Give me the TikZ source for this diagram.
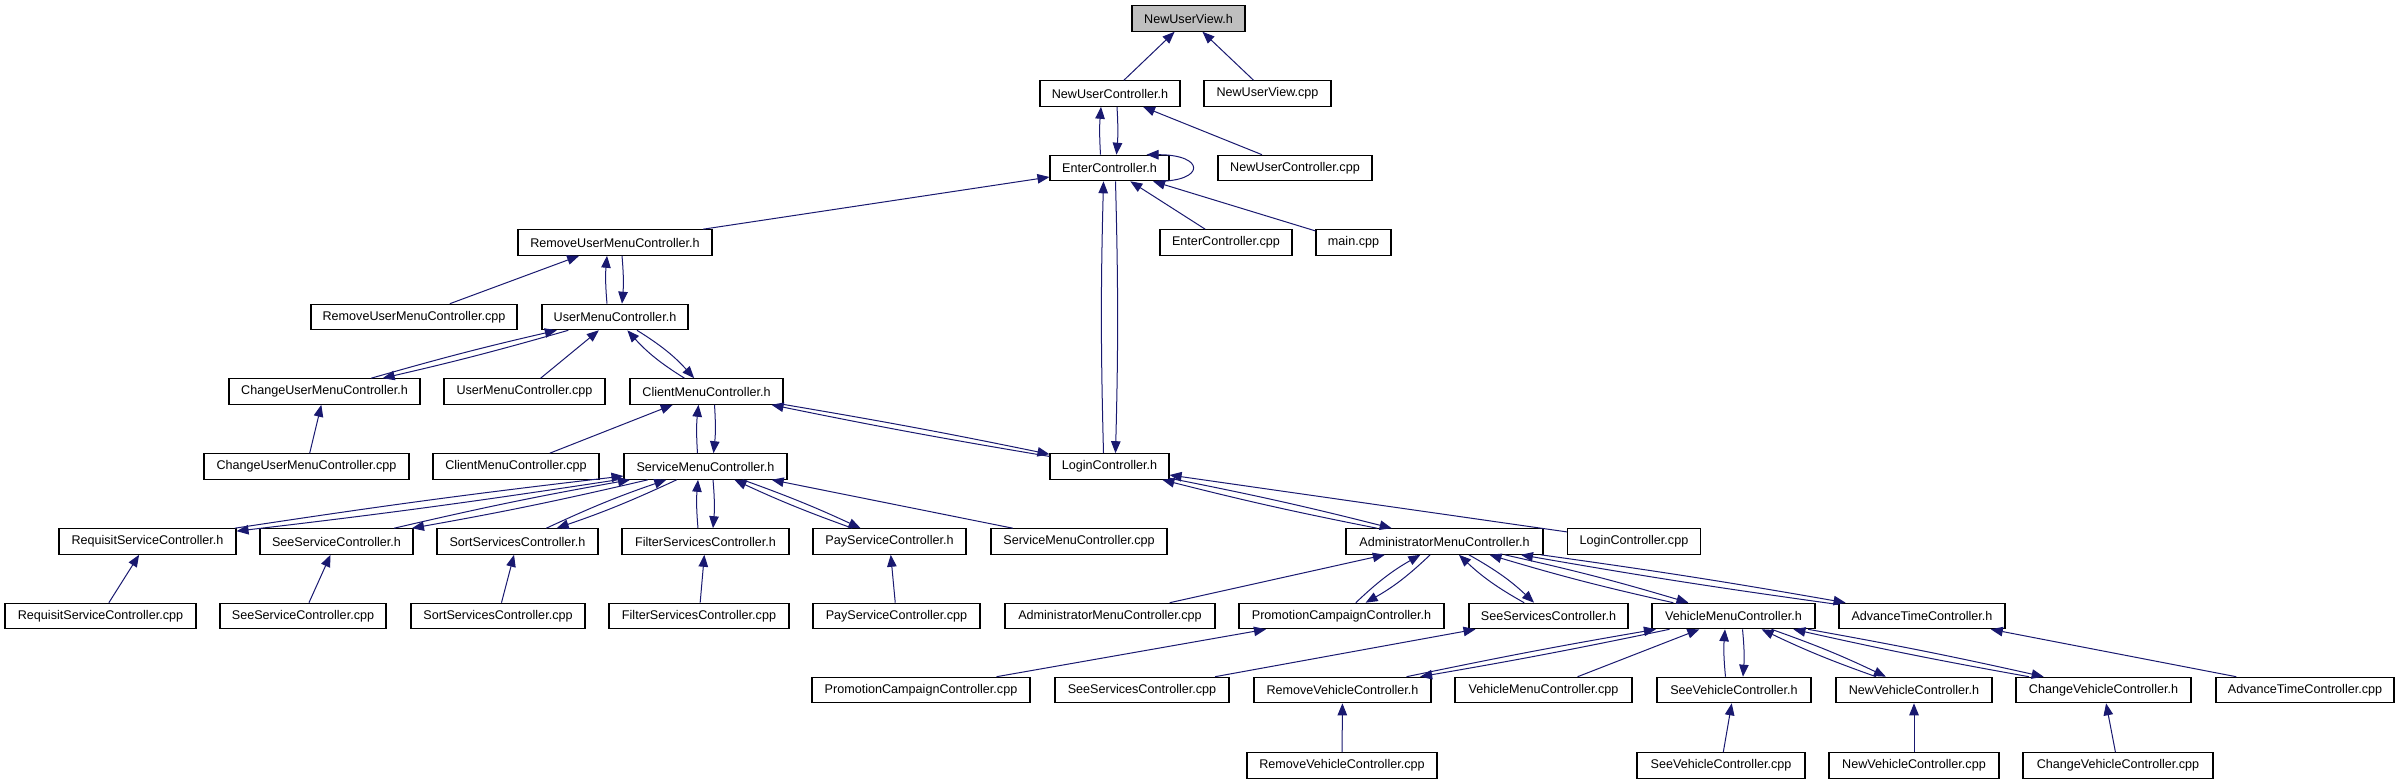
\documentclass[tikz,border=0pt]{standalone}
\usepackage{fontspec}
\setmainfont{Liberation Sans}
\usetikzlibrary{arrows.meta}
\definecolor{edgeblue}{HTML}{191970}
\definecolor{rootgray}{HTML}{BFBFBF}
\newcommand\twoway[3][4]{%
  \draw[edge] (#2) to[bend left=#1] (#3);
  \draw[edge] (#3) to[bend left=#1] (#2);}
\begin{document}
\begin{tikzpicture}[x=1pt,y=-1pt,
  box/.style={draw=black,line width=1.1pt,fill=white,minimum height=25.5pt,inner sep=0pt,font=\fontsize{12.6}{14}\selectfont},
  edge/.style={draw=edgeblue,line width=1pt,-{Triangle[length=12pt,width=9.5pt]}}]
\useasboundingbox[fill=white] (0,0) rectangle (2399,784);
% row 0
\node[box,fill=rootgray,minimum width=113pt] (nuv) at (1188.5,18.5) {NewUserView.h};
% row 1
\node[box,minimum width=140pt] (nuc) at (1110,93.5) {NewUserController.h};
\node[box,minimum width=127pt] (nuvcpp) at (1267.5,93.5) {NewUserView.cpp};
% row 2
\node[box,minimum width=119pt] (ec) at (1109.5,168) {EnterController.h};
\node[box,minimum width=154pt] (nuccpp) at (1295,168) {NewUserController.cpp};
% row 3
\node[box,minimum width=194pt] (rum) at (615,242.5) {RemoveUserMenuController.h};
\node[box,minimum width=132pt] (eccpp) at (1226,242.5) {EnterController.cpp};
\node[box,minimum width=75pt] (main) at (1353.5,242.5) {main.cpp};
% row 4
\node[box,minimum width=206pt] (rumcpp) at (414,317) {RemoveUserMenuController.cpp};
\node[box,minimum width=146pt] (um) at (615,317) {UserMenuController.h};
% row 5
\node[box,minimum width=191pt] (cum) at (324.5,391.5) {ChangeUserMenuController.h};
\node[box,minimum width=161pt] (umcpp) at (524.5,391.5) {UserMenuController.cpp};
\node[box,minimum width=153pt] (cm) at (706.5,391.5) {ClientMenuController.h};
% row 6
\node[box,minimum width=205pt] (cumcpp) at (306.5,466.5) {ChangeUserMenuController.cpp};
\node[box,minimum width=166pt] (cmcpp) at (516,466.5) {ClientMenuController.cpp};
\node[box,minimum width=163pt] (sm) at (705.5,466.5) {ServiceMenuController.h};
\node[box,minimum width=119pt] (lc) at (1109.5,466.5) {LoginController.h};
% row 7
\node[box,minimum width=177pt] (rs) at (147.5,541.5) {RequisitServiceController.h};
\node[box,minimum width=153pt] (ss) at (336.5,541.5) {SeeServiceController.h};
\node[box,minimum width=161pt] (sort) at (517.5,541.5) {SortServicesController.h};
\node[box,minimum width=167pt] (filt) at (705.5,541.5) {FilterServicesController.h};
\node[box,minimum width=153pt] (pay) at (889.5,541.5) {PayServiceController.h};
\node[box,minimum width=176pt] (smcpp) at (1079,541.5) {ServiceMenuController.cpp};
\node[box,minimum width=197pt] (am) at (1444.5,541.5) {AdministratorMenuController.h};
\node[box,minimum width=133pt] (lccpp) at (1634,541.5) {LoginController.cpp};
% row 8
\node[box,minimum width=191pt] (rscpp) at (100.5,616) {RequisitServiceController.cpp};
\node[box,minimum width=166pt] (sscpp) at (303,616) {SeeServiceController.cpp};
\node[box,minimum width=174pt] (sortcpp) at (498,616) {SortServicesController.cpp};
\node[box,minimum width=180pt] (filtcpp) at (699,616) {FilterServicesController.cpp};
\node[box,minimum width=167pt] (paycpp) at (896.5,616) {PayServiceController.cpp};
\node[box,minimum width=210pt] (amcpp) at (1110,616) {AdministratorMenuController.cpp};
\node[box,minimum width=205pt] (pc) at (1341.5,616) {PromotionCampaignController.h};
\node[box,minimum width=159pt] (ses) at (1548.5,616) {SeeServicesController.h};
\node[box,minimum width=163pt] (vm) at (1733.5,616) {VehicleMenuController.h};
\node[box,minimum width=166pt] (at) at (1922,616) {AdvanceTimeController.h};
% row 9
\node[box,minimum width=218pt] (pccpp) at (921,690) {PromotionCampaignController.cpp};
\node[box,minimum width=174pt] (sescpp) at (1142,690) {SeeServicesController.cpp};
\node[box,minimum width=177pt] (rv) at (1342.5,690) {RemoveVehicleController.h};
\node[box,minimum width=177pt] (vmcpp) at (1543.5,690) {VehicleMenuController.cpp};
\node[box,minimum width=154pt] (sv) at (1734,690) {SeeVehicleController.h};
\node[box,minimum width=156pt] (nv) at (1914,690) {NewVehicleController.h};
\node[box,minimum width=175pt] (cv) at (2103.5,690) {ChangeVehicleController.h};
\node[box,minimum width=178pt] (atcpp) at (2305,690) {AdvanceTimeController.cpp};
% row 10
\node[box,minimum width=190pt] (rvcpp) at (1342,765.5) {RemoveVehicleController.cpp};
\node[box,minimum width=168pt] (svcpp) at (1721,765.5) {SeeVehicleController.cpp};
\node[box,minimum width=170pt] (nvcpp) at (1914,765.5) {NewVehicleController.cpp};
\node[box,minimum width=190pt] (cvcpp) at (2118,765.5) {ChangeVehicleController.cpp};

% edges
\draw[edge] (nuc) -- (nuv);
\draw[edge] (nuvcpp) -- (nuv);
\draw[edge] ([xshift=-9pt]ec.north) to[bend left=4] ([xshift=-9pt]nuc.south);
\draw[edge] ([xshift=7pt]nuc.south) to[bend left=4] ([xshift=7pt]ec.north);
\draw[edge] (nuccpp) -- (nuc);
\draw[edge] ([xshift=-12pt]ec.south east) .. controls ([xshift=36pt]ec.south east) and ([xshift=36pt]ec.north east) .. ([xshift=-23pt]ec.north east);
\draw[edge] (rum) -- (ec);
\draw[edge] (eccpp) -- (ec);
\draw[edge] (main) -- (ec);
\draw[edge] ([xshift=-6pt]lc.north) to[bend left=1.5] ([xshift=-6pt]ec.south);
\draw[edge] ([xshift=6pt]ec.south) to[bend left=1.5] ([xshift=6pt]lc.north);
\draw[edge] (rumcpp) -- (rum);
\draw[edge] ([xshift=-8pt]um.north) to[bend left=5] ([xshift=-8pt]rum.south);
\draw[edge] ([xshift=7pt]rum.south) to[bend left=5] ([xshift=7pt]um.north);
\twoway[1.5]{cum}{um}
\draw[edge] (umcpp) -- (um);
\twoway[8]{cm}{um}
\draw[edge] (cumcpp) -- (cum);
\draw[edge] (cmcpp) -- (cm);
\draw[edge] ([xshift=-8pt]sm.north) to[bend left=5] ([xshift=-8pt]cm.south);
\draw[edge] ([xshift=8pt]cm.south) to[bend left=5] ([xshift=8pt]sm.north);
\twoway[1]{lc}{cm}
\twoway[1]{rs}{sm}
\twoway[1.5]{ss}{sm}
\twoway[3]{sort}{sm}
\draw[edge] ([xshift=-7.5pt]filt.north) to[bend left=5] ([xshift=-7.5pt]sm.south);
\draw[edge] ([xshift=7.5pt]sm.south) to[bend left=5] ([xshift=7.5pt]filt.north);
\twoway[2.5]{pay}{sm}
\draw[edge] (smcpp) -- (sm);
\draw[edge] (rscpp) -- (rs);
\draw[edge] (sscpp) -- (ss);
\draw[edge] (sortcpp) -- (sort);
\draw[edge] (filtcpp) -- (filt);
\draw[edge] (paycpp) -- (pay);
\twoway[1.5]{am}{lc}
\draw[edge] (lccpp) -- (lc);
\draw[edge] (amcpp) -- (am);
\twoway[7]{pc}{am}
\twoway[7]{ses}{am}
\twoway[2]{vm}{am}
\twoway[1]{at}{am}
\draw[edge] (pccpp) -- (pc);
\draw[edge] (sescpp) -- (ses);
\twoway[1]{rv}{vm}
\draw[edge] (vmcpp) -- (vm);
\draw[edge] ([xshift=-8.5pt]sv.north) to[bend left=5] ([xshift=-8.5pt]vm.south);
\draw[edge] ([xshift=9pt]vm.south) to[bend left=5] ([xshift=9pt]sv.north);
\twoway[3]{nv}{vm}
\twoway[1.2]{cv}{vm}
\draw[edge] (atcpp) -- (at);
\draw[edge] (rvcpp) -- (rv);
\draw[edge] (svcpp) -- (sv);
\draw[edge] (nvcpp) -- (nv);
\draw[edge] (cvcpp) -- (cv);
\end{tikzpicture}
\end{document}
